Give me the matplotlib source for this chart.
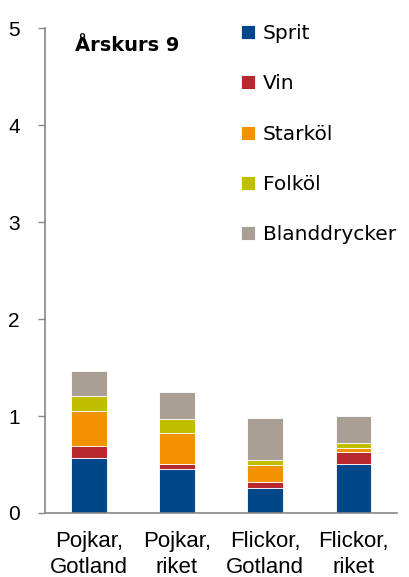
import numpy as np
import matplotlib.pyplot as plt

# data
groups = ["Pojkar,\nGotland", "Pojkar,\nriket", "Flickor,\nGotland", "Flickor,\nriket"]
drinks = ["Sprit", "Vin", "Starköl", "Folköl", "Blanddrycker"]
sprit = [0.57, 0.45, 0.26, 0.51]
vin = [0.12, 0.06, 0.06, 0.12]
starkol = [0.36, 0.31, 0.17, 0.04]
folkol = [0.16, 0.15, 0.06, 0.05]
bland = [0.25, 0.28, 0.43, 0.28]
colors = ["#00468b", "#b8292f", "#f39200", "#bfbf00", "#a99f94"]

series = [sprit, vin, starkol, folkol, bland]

fig = plt.figure(figsize=(4.09, 5.77), dpi=100)
ax = fig.add_axes([0.110, 0.111, 0.861, 0.840])

x = np.arange(len(groups))
bottom = np.zeros(len(groups))
handles = []
for vals, name, c in zip(series, drinks, colors):
    b = ax.bar(x, vals, 0.4, bottom=bottom, color=c, edgecolor="white",
               linewidth=0.6, label=name)
    handles.append(b)
    bottom += np.array(vals)

ax.set_xlim(-0.5, 3.5)
ax.set_ylim(0, 5)
ax.set_yticks([0, 1, 2, 3, 4, 5])
ax.set_xticks(x)
ax.set_xticklabels(groups, fontsize=16, family="Liberation Sans", linespacing=1.3)
ax.tick_params(axis="x", length=0, pad=13)
ax.tick_params(axis="y", labelsize=15, length=5, width=1, color="#888888", pad=13)
for lbl in ax.get_yticklabels():
    lbl.set_family("Liberation Sans")
for s in ["top", "right"]:
    ax.spines[s].set_visible(False)
for s in ["left", "bottom"]:
    ax.spines[s].set_color("#888888")
    ax.spines[s].set_linewidth(1.2)

ax.text(0.085, 0.985, "Årskurs 9", transform=ax.transAxes, fontsize=14,
        fontweight="bold", family="DejaVu Sans", va="top", ha="left")

leg = ax.legend(handles=handles, loc="upper left", bbox_to_anchor=(0.534, 1.025),
                frameon=False, fontsize=14.5, labelspacing=1.55, handlelength=0.68,
                handleheight=0.68, handletextpad=0.4, borderaxespad=0)
for t in leg.get_texts():
    t.set_family("DejaVu Sans")

fig.savefig("out.png", dpi=100)
